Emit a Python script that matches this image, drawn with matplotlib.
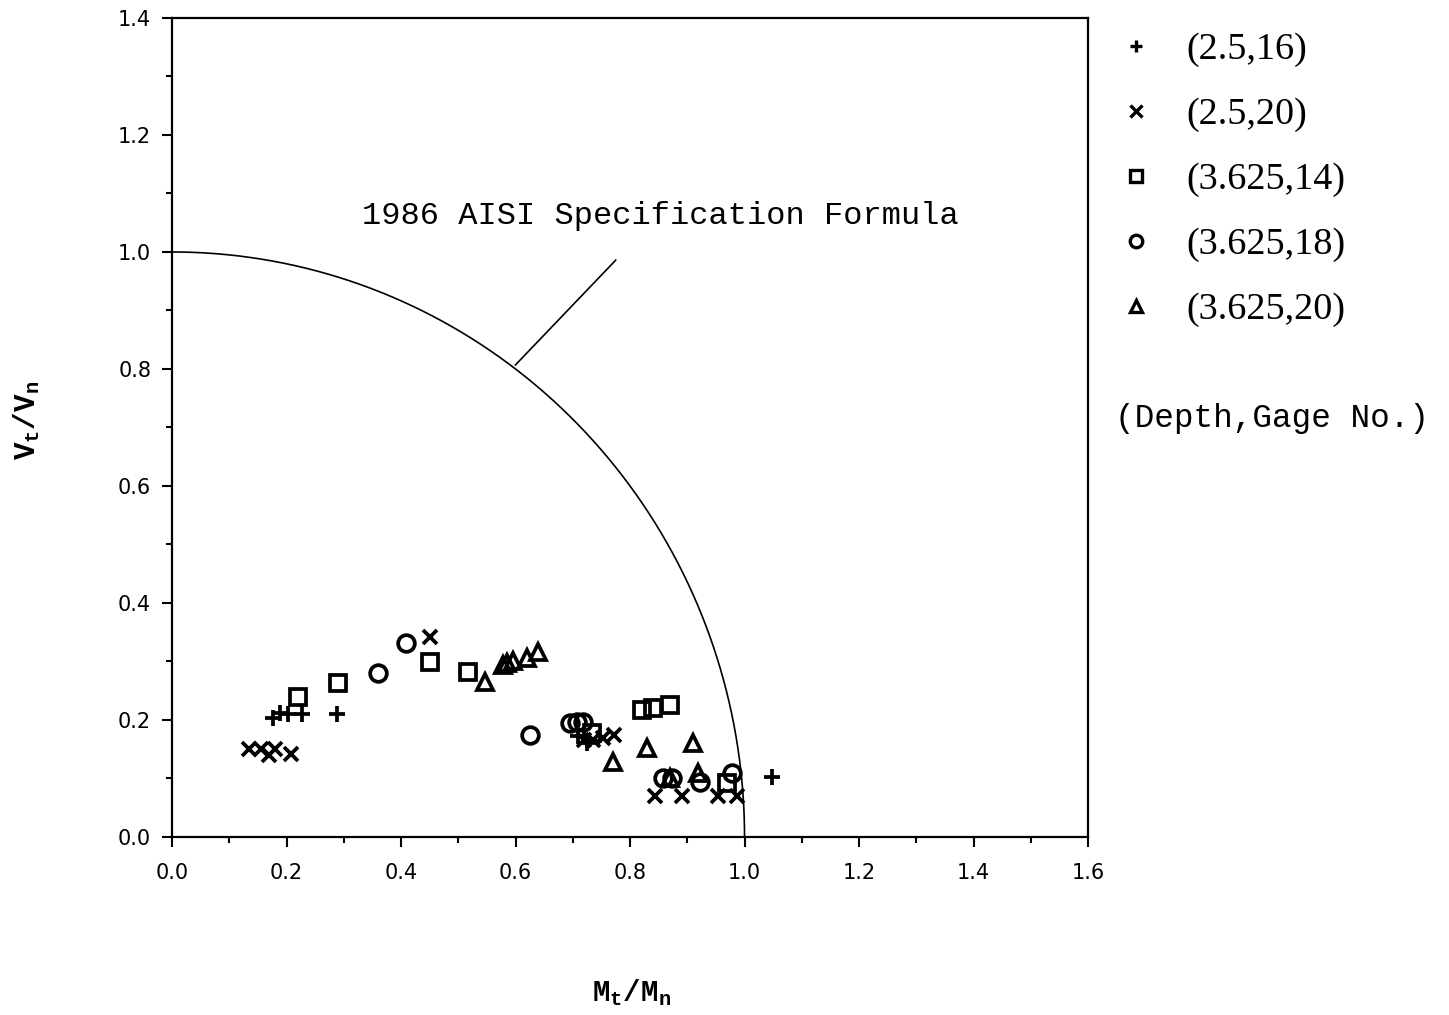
import numpy as np
from matplotlib import pyplot as plt
from matplotlib.lines import Line2D
from matplotlib.ticker import MultipleLocator

# (Depth, Gage No.) series
labels = ['(2.5,16)', '(2.5,20)', '(3.625,14)', '(3.625,18)', '(3.625,20)']
markers = ['+', 'x', 's', 'o', '^']

plus_x = [0.176, 0.189, 0.203, 0.227, 0.288, 0.710, 0.725, 1.048]
plus_y = [0.203, 0.212, 0.210, 0.210, 0.210, 0.172, 0.160, 0.103]

cross_x = [0.135, 0.155, 0.170, 0.180, 0.208, 0.451, 0.720, 0.735, 0.752, 0.772,
           0.844, 0.891, 0.954, 0.987]
cross_y = [0.150, 0.150, 0.140, 0.150, 0.142, 0.342, 0.165, 0.165, 0.170, 0.175,
           0.070, 0.070, 0.070, 0.070]

square_x = [0.220, 0.290, 0.451, 0.517, 0.733, 0.821, 0.840, 0.870, 0.969]
square_y = [0.239, 0.263, 0.299, 0.282, 0.178, 0.217, 0.220, 0.226, 0.092]

circle_x = [0.360, 0.409, 0.625, 0.695, 0.707, 0.718, 0.858, 0.873, 0.922, 0.978]
circle_y = [0.280, 0.332, 0.174, 0.195, 0.197, 0.197, 0.100, 0.100, 0.094, 0.109]

tri_x = [0.547, 0.578, 0.585, 0.596, 0.620, 0.640, 0.770, 0.830, 0.910, 0.870, 0.919]
tri_y = [0.265, 0.294, 0.297, 0.300, 0.306, 0.317, 0.128, 0.152, 0.161, 0.101, 0.109]

series = [(plus_x, plus_y), (cross_x, cross_y), (square_x, square_y),
          (circle_x, circle_y), (tri_x, tri_y)]


def main():
    fig = plt.figure(figsize=(14.49, 10.15), dpi=100)
    ax = fig.add_axes([0.1187, 0.1754, 0.6322, 0.8069])

    # 1986 AISI interaction curve: (M/Mn)^2 + (V/Vn)^2 = 1
    t = np.linspace(0, np.pi / 2, 400)
    ax.plot(np.sin(t), np.cos(t), color='black', lw=1.2)
    ax.plot([0.6, 0.775], [0.807, 0.986], color='black', lw=1.2)
    ax.text(0.853, 1.062, '1986 AISI Specification Formula', ha='center', va='center',
            family='Liberation Mono', fontsize=23)

    sizes = [12, 10, 12, 12, 12]
    for (xs, ys), m, s in zip(series, markers, sizes):
        ax.plot(xs, ys, linestyle='none', marker=m, markersize=s,
                markerfacecolor='none', markeredgecolor='black', markeredgewidth=2.7)

    ax.set_xlim(0, 1.6)
    ax.set_ylim(0, 1.4)
    ax.xaxis.set_major_locator(MultipleLocator(0.2))
    ax.xaxis.set_minor_locator(MultipleLocator(0.1))
    ax.yaxis.set_major_locator(MultipleLocator(0.2))
    ax.yaxis.set_minor_locator(MultipleLocator(0.1))
    ax.tick_params(which='major', direction='out', length=7, width=1.5)
    ax.tick_params(which='minor', direction='out', length=4, width=1.5)
    ax.tick_params(axis='x', pad=12)
    ax.tick_params(axis='y', pad=8)
    ax.set_xticks(ax.get_xticks())
    ax.set_xticklabels(['%.1f' % v for v in ax.get_xticks()], family='DejaVu Sans', fontsize=15)
    ax.set_yticks(ax.get_yticks())
    ax.set_yticklabels(['%.1f' % v for v in ax.get_yticks()], family='DejaVu Sans', fontsize=15)
    ax.set_xlim(0, 1.6)
    ax.set_ylim(0, 1.4)
    for sp in ax.spines.values():
        sp.set_linewidth(1.6)

    fig.text(632 / 1449, 1 - 993 / 1015, r'M$_\mathregular{t}$/M$_\mathregular{n}$',
             ha='center', va='center', family='Liberation Mono', fontsize=21, weight='bold')
    fig.text(27 / 1449, 1 - 420 / 1015, r'V$_\mathregular{t}$/V$_\mathregular{n}$',
             ha='center', va='center', rotation=90, family='Liberation Mono',
             fontsize=21, weight='bold')

    handles = [Line2D([], [], linestyle='none', marker=m, markersize=9,
                      markerfacecolor='none', markeredgecolor='black',
                      markeredgewidth=2.4) for m in markers]
    fig.legend(handles, labels, loc='upper left', bbox_to_anchor=(1102 / 1449, 1 - 17 / 1015),
               frameon=False, prop={'family': 'Liberation Serif', 'size': 27.5},
               labelspacing=0.79, handletextpad=0.8, handlelength=1.0, borderaxespad=0)

    fig.text(1115 / 1449, 1 - 418 / 1015, '(Depth,Gage No.)', ha='left', va='center',
             family='Liberation Mono', fontsize=23.5)

    plt.savefig('out.png', dpi=100)
    plt.close()


if __name__ == '__main__':
    main()
